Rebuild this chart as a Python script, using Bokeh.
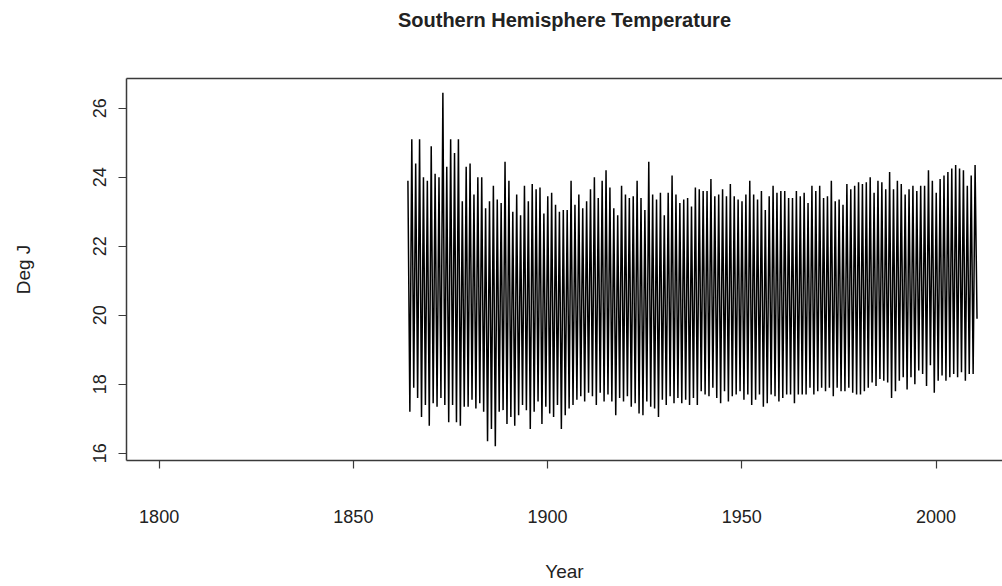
from bokeh.plotting import figure
from bokeh.models import FixedTicker, Range1d, ColumnDataSource, LinearAxis
from bokeh.embed import file_html
from bokeh.resources import INLINE

# ---- data: yearly summer peak and winter trough (Deg J) ----
years = list(range(1864, 2011))

peak = [23.9, 25.1, 24.4, 25.1, 24.0, 23.9, 24.9, 24.1, 24.0, 26.45,
        24.3, 25.1, 24.7, 25.1, 23.3, 24.3, 24.4, 23.5, 24.0, 24.0,
        23.1, 23.3, 23.75, 23.35, 23.25, 24.45, 23.9, 23.0, 23.5, 22.9,
        23.75, 23.3, 23.8, 23.65, 23.7, 22.95, 23.45, 23.55, 23.2, 23.0,
        23.05, 23.05, 23.9, 23.2, 23.5, 23.1, 23.3, 23.65, 24.0, 23.4,
        23.9, 24.2, 23.7, 23.1, 22.9, 23.75, 23.5, 23.4, 23.45, 23.9,
        23.4, 23.05, 24.45, 23.5, 23.35, 23.55, 22.9, 23.55, 24.05, 23.5,
        23.25, 23.35, 23.4, 23.15, 23.7, 23.65, 23.6, 23.6, 23.95, 23.45,
        23.5, 23.65, 23.45, 23.8, 23.45, 23.35, 23.3, 23.5, 23.9, 23.5,
        23.35, 23.6, 23.05, 23.45, 23.75, 23.55, 23.6, 23.6, 23.4, 23.4,
        23.6, 23.45, 23.55, 23.25, 23.75, 23.6, 23.75, 23.4, 23.45, 23.9,
        23.3, 23.35, 23.2, 23.8, 23.65, 23.75, 23.85, 23.8, 23.85, 24.0,
        23.55, 23.9, 23.85, 23.65, 24.15, 23.65, 23.9, 23.8, 23.5, 23.65,
        23.75, 23.6, 23.75, 23.75, 24.2, 23.9, 23.55, 23.95, 24.05, 24.15,
        24.25, 24.35, 24.25, 24.2, 23.75, 24.05, 24.35]

# trough of each year; the last entry is the final (2010) value where the series stops
trough = [17.2, 17.9, 17.6, 17.05, 17.4, 16.8, 17.45, 17.35, 17.6, 17.4,
          16.9, 17.4, 16.9, 16.8, 17.35, 17.35, 17.55, 17.3, 17.45, 17.2,
          16.35, 16.7, 16.2, 17.2, 17.25, 16.85, 17.05, 16.8, 17.1, 17.4,
          17.25, 16.7, 17.2, 17.5, 16.85, 17.35, 17.15, 17.05, 17.4, 16.7,
          17.1, 17.3, 17.4, 17.55, 17.65, 17.5, 17.75, 17.65, 17.4, 17.75,
          17.5, 17.7, 17.5, 17.1, 17.6, 17.5, 17.65, 17.35, 17.45, 17.15,
          17.1, 17.5, 17.35, 17.3, 17.05, 17.55, 17.4, 17.65, 17.45, 17.6,
          17.45, 17.55, 17.4, 17.6, 17.4, 17.8, 17.7, 17.65, 17.9, 17.6,
          17.45, 17.8, 17.5, 17.65, 17.7, 17.8, 17.55, 17.7, 17.4, 17.55,
          17.7, 17.35, 17.45, 17.7, 17.65, 17.5, 17.6, 17.7, 17.7, 17.45,
          17.7, 17.7, 17.7, 17.9, 17.7, 17.8, 17.9, 17.8, 17.9, 17.65,
          17.9, 17.8, 17.8, 17.9, 17.75, 17.7, 17.7, 17.8, 17.9, 18.05,
          17.95, 18.15, 18.1, 18.05, 17.6, 17.8, 18.1, 18.2, 17.85, 18.2,
          18.0, 18.4, 18.3, 17.95, 18.55, 17.75, 18.1, 18.25, 18.1, 18.2,
          18.3, 18.2, 18.35, 18.1, 18.3, 18.3, 19.9]

x_ticks = [1800, 1850, 1900, 1950, 2000]
y_ticks = [16, 18, 20, 22, 24, 26]
title_text = "Southern Hemisphere Temperature"

# interleave: peak in January, trough in July of each year
xs, ys = [], []
for yr, hi, lo in zip(years, peak, trough):
    xs += [yr + 1 / 24, yr + 13 / 24]
    ys += [hi, lo]
src = ColumnDataSource(dict(x=xs, y=ys))

FONT = "Liberation Sans"
TXT = "#222222"
FRAME = "#3a3a3a"

X0, X1, Y0, Y1 = 1791.6, 2017.1, 15.79, 26.86
p = figure(width=1002, height=586, output_backend="svg", toolbar_location=None,
           x_range=Range1d(X0, X1), y_range=Range1d(Y0, Y1),
           min_border_left=126, min_border_right=0, min_border_top=78,
           min_border_bottom=126)

p.line("x", "y", source=src, line_color="black", line_width=1.5)

p.grid.visible = False
p.background_fill_color = "white"
p.border_fill_color = "white"
p.outline_line_color = None

xax = p.below[0]
yax = p.left[0]

for ax in (xax, yax):
    ax.axis_line_color = FRAME
    ax.axis_line_width = 1.5
    ax.major_tick_line_color = FRAME
    ax.major_tick_line_width = 1.2
    ax.major_tick_in = 0
    ax.major_tick_out = 8
    ax.minor_tick_line_color = None
    ax.major_label_text_font = FONT
    ax.major_label_text_font_size = "18px"
    ax.major_label_text_color = TXT
    ax.axis_label_text_font = FONT
    ax.axis_label_text_font_size = "19px"
    ax.axis_label_text_font_style = "normal"
    ax.axis_label_text_color = TXT

xax.ticker = FixedTicker(ticks=x_ticks)
yax.ticker = FixedTicker(ticks=y_ticks)
xax.axis_label = "Year"
yax.axis_label = "Deg J"
xax.major_label_standoff = 41
xax.axis_label_standoff = 35
yax.major_label_orientation = "vertical"
yax.major_label_standoff = 12
yax.axis_label_standoff = 57

# top edge of the box (the right edge lies outside the picture); it also carries the title
top = LinearAxis(ticker=FixedTicker(ticks=[]), axis_line_color=FRAME,
                 axis_line_width=1.5, major_label_text_font_size="0px",
                 major_tick_line_color=None, minor_tick_line_color=None,
                 major_label_standoff=0, axis_label=title_text,
                 axis_label_text_font=FONT, axis_label_text_font_size="20px",
                 axis_label_text_font_style="bold", axis_label_text_color=TXT,
                 axis_label_standoff=48)
p.add_layout(top, "above")

open("out.html", "w").write(file_html(p, INLINE))
